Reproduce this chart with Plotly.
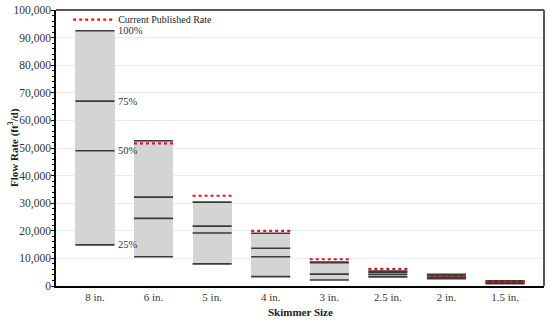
import plotly.graph_objects as go

categories = ["8 in.", "6 in.", "5 in.", "4 in.", "3 in.", "2.5 in.", "2 in.", "1.5 in."]
p100 = [92500, 52600, 30400, 19100, 8700, 5400, 4200, 1900]
p75 = [67000, 32200, 21700, 13700, 8400, 5000, 3800, 1500]
p50 = [49000, 24500, 19200, 10600, 4300, 4200, 3200, 1200]
p25 = [14900, 10600, 8000, 3400, 2200, 3300, 2600, 800]
published = [None, 51700, 32700, 20000, 9700, 6200, 3600, 1600]
pct_labels = ["100%", "75%", "50%", "25%"]
y_ticks = list(range(0, 100001, 10000))

W = 0.667
idx = list(range(len(categories)))
FONT = "Liberation Serif, Times New Roman, serif"
FW, FH = 550, 322
L, R, T, B = 56, 6, 10, 36
PW, PH = FW - L - R, FH - T - B

fig = go.Figure()
fig.add_trace(go.Bar(
    x=idx, base=p25, y=[a - b for a, b in zip(p100, p25)], width=W,
    marker=dict(color="#d4d4d4", line=dict(width=0)), showlegend=False, hoverinfo="skip"))

xs, ys = [], []
for series in (p100, p75, p50, p25):
    for i, v in zip(idx, series):
        xs += [i - W / 2, i + W / 2, None]
        ys += [v, v, None]
fig.add_trace(go.Scatter(x=xs, y=ys, mode="lines", line=dict(color="#3a3a3a", width=1.6),
                         showlegend=False, hoverinfo="skip"))

px, py = [], []
for i, v in zip(idx, published):
    if v is None:
        continue
    px += [i - W / 2, i + W / 2, None]
    py += [v, v, None]
fig.add_trace(go.Scatter(x=px, y=py, mode="lines", name="Current Published Rate",
                         line=dict(color="#e8141c", width=2.2, dash="dot")))

for lab, series in zip(pct_labels, (p100, p75, p50, p25)):
    fig.add_annotation(x=idx[0] + W / 2, y=series[0], text=lab, showarrow=False,
                       xanchor="left", yanchor="middle", xshift=1,
                       font=dict(family=FONT, size=10.5, color="#333"))

fig.add_annotation(xref="paper", yref="paper", x=-43 / PW, y=0.5, textangle=-90,
                   text="<b>Flow Rate (ft<sup>3</sup>/d)</b>", showarrow=False,
                   xanchor="center", yanchor="middle",
                   font=dict(family=FONT, size=11, color="#222"))
fig.add_annotation(xref="paper", yref="paper", x=0.5, y=-26 / PH,
                   text="<b>Skimmer Size</b>", showarrow=False,
                   xanchor="center", yanchor="middle",
                   font=dict(family=FONT, size=11, color="#222"))

fig.update_layout(
    width=FW, height=FH,
    margin=dict(l=L, r=R, t=T, b=B, autoexpand=False),
    paper_bgcolor="white", plot_bgcolor="white",
    bargap=0,
    font=dict(family=FONT, size=11, color="#333"),
    legend=dict(x=0.025, y=1.018, xanchor="left", yanchor="top", bgcolor="rgba(0,0,0,0)",
                font=dict(family=FONT, size=10, color="#222"), itemwidth=40,
                tracegroupgap=0),
    xaxis=dict(range=[-0.665, len(categories) - 1 + 0.665], tickmode="array",
               tickvals=idx, ticktext=categories, showgrid=False, zeroline=False,
               automargin=False,
               showline=True, linecolor="black", linewidth=1.5, ticks="",
               tickfont=dict(family=FONT, size=11, color="#333")),
    yaxis=dict(range=[0, 100000], tickmode="array", tickvals=y_ticks,
               ticktext=[f"{v:,}" for v in y_ticks], automargin=False,
               showgrid=True, gridcolor="#ebebeb", gridwidth=1, zeroline=False,
               showline=True, linecolor="black", linewidth=1.5,
               ticks="outside", ticklen=3, tickcolor="black", ticklabelstandoff=-2,
               minor=dict(dtick=2000, ticks="outside", ticklen=2, tickcolor="black", showgrid=False),
               tickfont=dict(family=FONT, size=11.5, color="#333")),
    shapes=[
        dict(type="line", xref="paper", yref="paper", x0=0, x1=1, y0=1, y1=1,
             line=dict(color="#555", width=2)),
        dict(type="line", xref="paper", yref="paper", x0=1, x1=1, y0=0, y1=1,
             line=dict(color="#555", width=2)),
    ],
)

fig.write_html("out.html", config={"displayModeBar": False},
               post_script="document.body.style.margin='0';document.body.style.overflow='hidden';")
